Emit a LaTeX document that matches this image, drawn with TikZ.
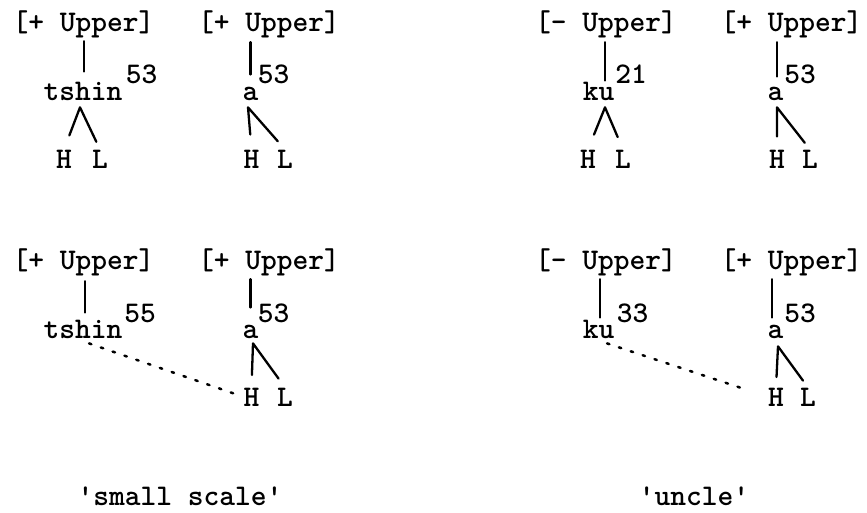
\documentclass[tikz,border=0pt]{standalone}
\usepackage{tikz}
\newcommand{\typewr}{\fontsize{30}{36}\selectfont\ttfamily\bfseries}

\begin{document}
\begin{tikzpicture}[x=1pt,y=-1pt,
    every node/.style={font=\typewr,inner sep=0pt,anchor=base},
    assoc/.style={line width=2.3pt,line cap=round,line join=round},
    spread/.style={line width=2.5pt,line cap=round,dash pattern=on 2.5pt off 10pt}]
  \useasboundingbox (0,0) rectangle (867,512);
  \node (upA) at (83.5,31) {[+ Upper]};
  \node (upB) at (269,31) {[+ Upper]};
  \node (upC) at (606,31) {[- Upper]};
  \node (upD) at (791.5,31) {[+ Upper]};
  \node (sylA) at (83,100) {tshin};
  \node (sylB) at (250.5,100) {a};
  \node (sylC) at (598.5,100) {ku};
  \node (sylD) at (775.5,100) {a};
  \node (toA) at (141.5,83) {53};
  \node (toB) at (273.5,83) {53};
  \node (toC) at (631,83) {21};
  \node (toD) at (800,83) {53};
  \node (hA) at (64,168) {H};
  \node (lA) at (100,168) {L};
  \node (hB) at (251.5,168) {H};
  \node (lB) at (285,168) {L};
  \node (hC) at (588,168) {H};
  \node (lC) at (623,168) {L};
  \node (hD) at (777,168) {H};
  \node (lD) at (810,168) {L};
  \node (upE) at (83.5,269) {[+ Upper]};
  \node (upF) at (269,269) {[+ Upper]};
  \node (upG) at (606,269) {[- Upper]};
  \node (upH) at (791.5,269) {[+ Upper]};
  \node (sylE) at (83,338) {tshin};
  \node (sylF) at (250.5,338) {a};
  \node (sylG) at (598.5,338) {ku};
  \node (sylH) at (775.5,338) {a};
  \node (toE) at (140,322) {55};
  \node (toF) at (273.5,322) {53};
  \node (toG) at (632.5,322) {33};
  \node (toH) at (800,322) {53};
  \node (hF) at (251.5,406) {H};
  \node (lF) at (285,406) {L};
  \node (hH) at (776,406) {H};
  \node (lH) at (808,406) {L};
  \node (capL) at (180,505) {'small scale'};
  \node (capR) at (694,505) {'uncle'};
  \coordinate (apA) at ([xshift=-3pt,yshift=-7pt]sylA.south);
  \coordinate (apB) at ([xshift=-2.5pt,yshift=-7pt]sylB.south);
  \coordinate (apC) at ([xshift=6.5pt,yshift=-7pt]sylC.south);
  \coordinate (apD) at ([xshift=1.5pt,yshift=-7pt]sylD.south);
  \coordinate (apF) at ([xshift=2.5pt,yshift=-5pt]sylF.south);
  \coordinate (apH) at ([xshift=2.5pt,yshift=-8pt]sylH.south);
  \draw[assoc,shorten <=3.5pt,shorten >=10pt] ([xshift=1pt]sylA.north |- upA.south) -- ([xshift=1pt]sylA.north);
  \draw[assoc,shorten <=4.5pt,shorten >=12pt] (sylB.north |- upB.south) -- (sylB.north);
  \draw[assoc,shorten <=4.5pt,shorten >=1pt] ([xshift=6.5pt]sylC.north |- upC.south) -- ([xshift=6.5pt]sylC.north);
  \draw[assoc,shorten <=4.5pt,shorten >=10pt] ([xshift=1.5pt]sylD.north |- upD.south) -- ([xshift=1.5pt]sylD.north);
  \draw[assoc,shorten <=15pt,shorten >=8.5pt] (hA.north) -- (apA) -- (lA.north);
  \draw[assoc,shorten <=15pt,shorten >=11pt] (hB.north) -- (apB) -- (lB.north);
  \draw[assoc,shorten <=16pt,shorten >=13.5pt] (hC.north) -- (apC) -- (lC.north);
  \draw[assoc,shorten <=13pt,shorten >=8.5pt] (hD.north) -- (apD) -- (lD.north);
  \draw[assoc,shorten <=5.5pt,shorten >=7pt] ([xshift=2pt]sylE.north |- upE.south) -- ([xshift=2pt]sylE.north);
  \draw[assoc,shorten <=3.5pt,shorten >=17pt] (sylF.north |- upF.south) -- (sylF.north);
  \draw[assoc,shorten <=3.5pt,shorten >=2pt] ([xshift=1.5pt]sylG.north |- upG.south) -- ([xshift=1.5pt]sylG.north);
  \draw[assoc,shorten <=3.5pt,shorten >=7pt] ([xshift=-3.5pt]sylH.north |- upH.south) -- ([xshift=-3.5pt]sylH.north);
  \draw[assoc,shorten <=12.5pt,shorten >=11pt] (hF.north) -- (apF) -- (lF.north);
  \draw[assoc,shorten <=10.5pt,shorten >=8.5pt] (hH.north) -- (apH) -- (lH.north);
  \draw[spread,shorten >=5pt] ([xshift=6pt,yshift=-5pt]sylE.south) -- (hF.west);
  \draw[spread,shorten >=21pt] ([xshift=8.5pt,yshift=-5pt]sylG.south) -- (hH.west);
\end{tikzpicture}
\end{document}
